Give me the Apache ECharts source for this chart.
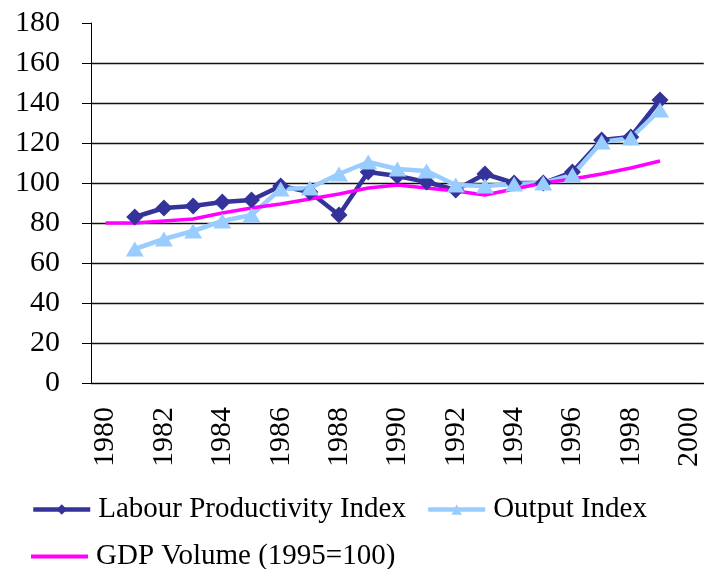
<!DOCTYPE html>
<html>
<head>
<meta charset="UTF-8" />
<title>Labour productivity</title>
<script src="https://cdn.jsdelivr.net/npm/echarts@6/dist/echarts.min.js"></script>
<style>
  html, body { margin: 0; padding: 0; background: #fff; }
  #chart { width: 704px; height: 569px; }
</style>
</head>
<body>
<div id="chart"></div>
<script>
// data
var years = [];
for (var y = 1980; y <= 2000; y++) years.push(String(y));

var labourIndex = [null, 83, 87.5, 88.5, 90.5, 91.5, 98.5, 95.5, 84, 105.5, 103.5,
                   100.5, 96.5, 104.5, 100, 100, 105.5, 121.5, 123, 141.5, null];
var outputIndex = [null, 67, 72, 76, 81, 84, 97, 97.5, 104.5, 110.5, 107,
                   106, 99, 98.5, 99.5, 100, 104, 120.5, 122.5, 136.5, null];
var gdpVolume = [80, 80, 81, 82, 85, 87.5, 89.5, 92, 94.5, 97.5, 99,
                 97.5, 96, 94, 97, 100, 102, 104.5, 107.5, 111, null];

var font = 'Liberation Serif';
var chart = echarts.init(document.getElementById('chart'));

var legendText = { fontFamily: font, fontSize: 29, color: '#000', padding: [0, 0, 0, 3] };

chart.setOption({
  animation: false,
  textStyle: { fontFamily: font },
  grid: { left: 91, top: 23, right: -7, bottom: 186, containLabel: false },
  xAxis: {
    type: 'category',
    data: years,
    boundaryGap: true,
    axisLine: { lineStyle: { color: '#000', width: 1 } },
    axisTick: { interval: 0, length: 9, lineStyle: { color: '#000' } },
    axisLabel: {
      interval: 1, rotate: 90, margin: 24,
      color: '#000', fontFamily: font, fontSize: 30
    },
    splitLine: { show: false }
  },
  yAxis: {
    type: 'value',
    min: 0, max: 180, interval: 20,
    axisLine: { show: true, lineStyle: { color: '#000', width: 1 } },
    axisTick: { show: true, length: 9, lineStyle: { color: '#000' } },
    axisLabel: { margin: 31, color: '#000', fontFamily: font, fontSize: 30 },
    splitLine: { show: true, showMaxLine: false, lineStyle: { color: '#111', width: 1.3 } }
  },
  legend: [{
    data: ['Labour Productivity Index', 'Output Index'],
    left: 31, top: 495, padding: 0,
    itemWidth: 57, itemHeight: 13, itemGap: 20,
    lineStyle: { width: 4.5 },
    textStyle: legendText
  }, {
    data: [{ name: 'GDP Volume (1995=100)', icon: 'rect' }],
    left: 31, top: 542, padding: 0,
    itemWidth: 57, itemHeight: 4, itemGap: 20,
    itemStyle: { color: '#FF00FF' },
    textStyle: legendText
  }],
  series: [{
    name: 'Labour Productivity Index',
    type: 'line',
    data: labourIndex,
    color: '#333399',
    symbol: 'diamond', symbolSize: [17, 17],
    lineStyle: { width: 4.5 },
    itemStyle: { color: '#333399' }
  }, {
    name: 'Output Index',
    type: 'line',
    data: outputIndex,
    color: '#99CCFF',
    symbol: 'triangle', symbolSize: [18, 15],
    lineStyle: { width: 4.5 },
    itemStyle: { color: '#99CCFF' }
  }, {
    name: 'GDP Volume (1995=100)',
    type: 'line',
    data: gdpVolume,
    color: '#FF00FF',
    symbol: 'none',
    lineStyle: { width: 3.5 }
  }]
});
</script>
</body>
</html>
